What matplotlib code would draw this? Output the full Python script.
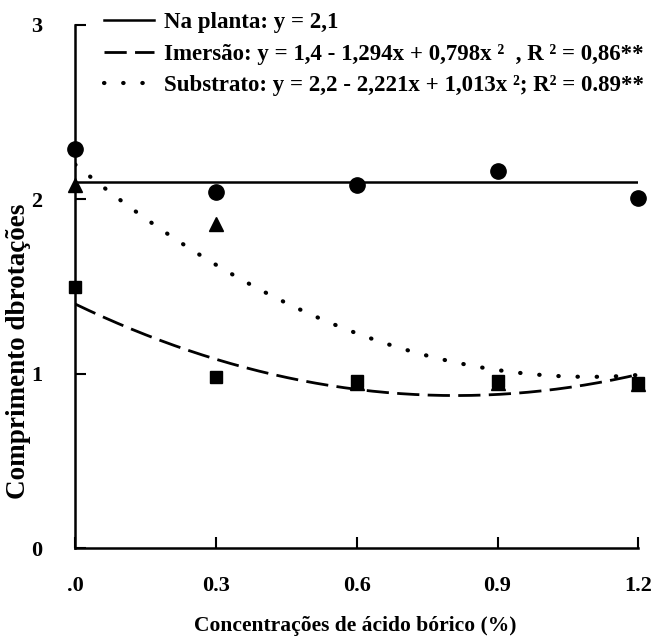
import numpy as np
import matplotlib.pyplot as plt
from matplotlib.lines import Line2D

plt.rcParams['font.family'] = ['Liberation Serif', 'DejaVu Serif']
plt.rcParams['font.weight'] = 'bold'

# boric acid concentration (%)
conc = [0.0, 0.3, 0.6, 0.9, 1.2]
# observed shoot length for each treatment
na_planta = [2.29, 2.04, 2.08, 2.16, 2.01]
imersao = [1.50, 0.98, 0.96, 0.96, 0.95]
substrato = [2.08, 1.86, 0.95, 0.95, 0.94]

# regression coefficients (a + b*x + c*x^2)
coef_planta = (2.1, 0.0, 0.0)
coef_imersao = (1.4, -1.294, 0.798)
coef_substrato = (2.2, -2.221, 1.013)

xticks = [0.0, 0.3, 0.6, 0.9, 1.2]
xtick_labels = ['.0', '0.3', '0.6', '0.9', '1.2']
yticks = [0, 1, 2, 3]

labels = [
    'Na planta: y = 2,1',
    'Imersão: y = 1,4 - 1,294x + 0,798x ²  , R ² = 0,86**',
    'Substrato: y = 2,2 - 2,221x + 1,013x ²; R² = 0.89**',
]

fig = plt.figure(figsize=(6.54, 6.39), dpi=100)
ax = fig.add_axes([0.115, 0.142, 0.861, 0.819])

xs = np.linspace(0, 1.2, 200)


def quad(c, x):
    return c[0] + c[1] * x + c[2] * x ** 2


ax.plot(xs, quad(coef_planta, xs), color='black', lw=1.8, solid_capstyle='butt')
ax.plot(xs, quad(coef_imersao, xs), color='black', lw=2.0,
        linestyle=(0, (8, 3)), dash_capstyle='butt')
ax.plot(xs, quad(coef_substrato, xs), color='black', lw=3.0,
        linestyle=(0, (0.1, 4.5)), dash_capstyle='round')

ax.plot(conc, substrato, '^', color='black', ms=10, clip_on=False, zorder=3)
ax.plot(conc, imersao, 's', color='black', ms=9, clip_on=False, zorder=4)
ax.plot(conc, na_planta, 'o', color='black', ms=11, clip_on=False, zorder=5)

ax.set_xlim(0, 1.2)
ax.set_ylim(0, 3)
ax.set_xticks(xticks)
ax.set_xticklabels(xtick_labels)
ax.set_yticks(yticks)
ax.tick_params(axis='both', direction='in', length=8, width=1.5,
               labelsize=16)
ax.tick_params(axis='x', pad=20)
ax.tick_params(axis='y', pad=24)

for side in ('top', 'right'):
    ax.spines[side].set_visible(False)
for side in ('left', 'bottom'):
    ax.spines[side].set_linewidth(1.8)

handles = [
    Line2D([], [], color='black', lw=1.8),
    Line2D([], [], color='black', lw=2.0, linestyle=(0, (8, 3))),
    Line2D([], [], color='black', lw=3.0, linestyle=(0, (0.1, 4.5)),
           dash_capstyle='round'),
]
fig.legend(handles, labels, loc='upper left', bbox_to_anchor=(0.145, 0.995),
           frameon=False, fontsize=16.5, handlelength=2.2, handletextpad=0.4,
           labelspacing=0.45, borderaxespad=0)

fig.text(0.028, 0.45, 'Comprimento dbrotações', rotation=90,
         ha='center', va='center', fontsize=19.5)
fig.text(0.543, 0.02, 'Concentrações de ácido bórico (%)',
         ha='center', va='center', fontsize=15.5)

fig.savefig('out.png', dpi=100)
